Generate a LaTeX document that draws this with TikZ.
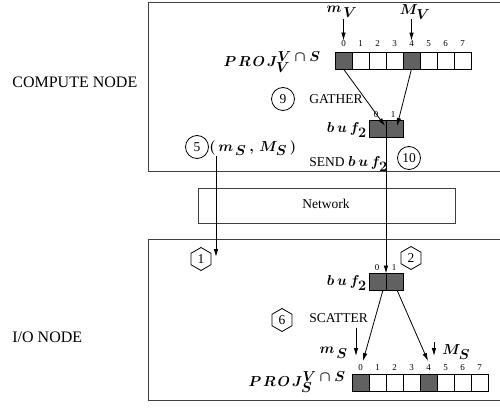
\documentclass[tikz,border=0pt]{standalone}
\usepackage{fontspec}
\setmainfont{Liberation Serif}
\usetikzlibrary{arrows.meta,shapes.geometric}
\newcommand{\bigsc}[1]{\mbox{\fontsize{14}{15}\selectfont$#1$}}
\begin{document}
\begin{tikzpicture}[x=1pt,y=-1pt, line width=0.8pt,
  frame/.style={draw=black!75, line width=0.9pt},
  cell/.style={draw, minimum width=17pt, minimum height=17pt, inner sep=0pt, outer sep=0pt, line width=0.7pt},
  full/.style={cell, fill=black!62},
  idx/.style={font=\fontsize{9}{9}\selectfont, inner sep=0pt},
  circ/.style={circle, draw, minimum size=23pt, inner sep=0pt, font=\fontsize{13.5}{13.5}\selectfont},
  hexa/.style={regular polygon, regular polygon sides=6, shape border rotate=30, draw, minimum size=23pt, inner sep=0pt, font=\fontsize{13.5}{13.5}\selectfont},
  lbl/.style={font=\fontsize{13.5}{15}\selectfont, inner sep=0pt},
  mlbl/.style={font=\fontsize{14.5}{16}\selectfont\boldmath, inner sep=0pt},
  side/.style={font=\fontsize{16}{18}\selectfont, inner sep=0pt, anchor=west},
  arr/.style={-{Latex[length=8pt,width=4.5pt]}}
]
\useasboundingbox (0,0) rectangle (500,414);
% frames
\draw[frame] (505,2) -- (148,2) -- (148,171) -- (505,171);
\node[frame, draw, minimum width=257pt, minimum height=35pt, inner sep=0pt] (net) at (326.5,205.5) {};
\node[lbl] at (326,204) {Network};
\draw[frame] (505,239) -- (148,239) -- (148,400) -- (505,400);
\node[side] (cn) at (12,82) {COMPUTE NODE};
\node[side] (ion) at (12,337) {I/O NODE};
% PROJ_V array
\foreach \i in {0,...,7} {
  \node[cell] (v\i) at (343.5+17*\i,60.5) {};
  \node[idx] (vi\i) at (343.5+17*\i,44) {\i};
}
\node[full] at (v0) {};
\node[full] at (v4) {};
\node[mlbl, anchor=east] (projv) at (321,62) {$P\mskip2mu R\mskip2mu O\mskip2mu J^{\bigsc{V\cap S}}_{\bigsc{V}}$};
\node[mlbl] (mv) at (342,12) {$m_{\,\bigsc{V}}$};
\node[mlbl] (Mv) at (415,12) {$M_{\bigsc{V}}$};
\coordinate (mva) at (343.5,19);
\coordinate (Mva) at (411.5,19);
\draw[arr] (mva) -- (vi0.north);
\draw[arr] (Mva) -- (vi4.north);
% gather
\node[circ] (c9) at (283,99) {9};
\node[lbl, anchor=west] (gather) at (309,99) {GATHER};
\node[full] (b0) at (377.5,129) {};
\node[full] (b1) at (394.5,129) {};
\node[idx] at (376,115) {0};
\node[idx] at (393,115) {1};
\node[mlbl, anchor=east] (bufa) at (367,130) {$b\,u\,f_{\bigsc{2}}$};
\coordinate (g0) at (385,126);
\coordinate (g1) at (397,126);
\draw[arr] (v0.south) -- (g0);
\draw[arr] (v4.south) -- (g1);
% send
\node[circ] (c5) at (197,147) {5};
\node[mlbl, anchor=west] (ms) at (209,148) {$(\,m_{\,\bigsc{S}}\,,\,M_{\bigsc{S}}\,)$};
\node[lbl, anchor=west] (send) at (309,164) {SEND \mbox{\fontsize{14.5}{16}\selectfont\boldmath$b\,u\,f_{\bigsc{2}}$}};
\node[circ] (c10) at (409,158) {10};
\coordinate (mss) at (216,156);
\coordinate (mse) at (216,257);
\draw[arr] (mss) -- (mse);
% I/O buffer
\node[full] (d0) at (377.5,282) {};
\node[full] (d1) at (394.5,282) {};
\node[idx] at (377,268) {0};
\node[idx] at (394,268) {1};
\node[mlbl, anchor=east] (bufb) at (367,283) {$b\,u\,f_{\bigsc{2}}$};
\draw[arr] (b0.south east) -- (d0.north east);
\node[hexa] (h1) at (201,259) {1};
\node[hexa] (h2) at (411,258) {2};
% scatter
\node[hexa] (h6) at (282,320) {6};
\node[lbl, anchor=west] (scatter) at (309,318) {SCATTER};
\foreach \i in {0,...,7} {
  \node[cell] (s\i) at (360.5+17*\i,383) {};
  \node[idx] (si\i) at (360.5+17*\i,368) {\i};
}
\node[full] at (s0) {};
\node[full] at (s4) {};
\node[mlbl, anchor=east] (projs) at (346,382) {$P\mskip2mu R\mskip2mu O\mskip2mu J^{\bigsc{V\cap S}}_{\bigsc{S}}$};
\coordinate (e0) at (383,290);
\coordinate (e1) at (397,290);
\coordinate (t0) at (363,361);
\coordinate (t1) at (428,361);
\draw[arr] (e0) -- (t0);
\draw[arr] (e1) -- (t1);
\node[mlbl, anchor=east] (msl) at (348,353) {$m_{\,\bigsc{S}}$};
\node[mlbl, anchor=west] (Msl) at (442,352) {$M_{\bigsc{S}}$};
\coordinate (msa) at (356,328);
\coordinate (msb) at (356,356);
\coordinate (Msa) at (434,342);
\coordinate (Msb) at (434,356);
\draw[arr] (msa) -- (msb);
\draw[arr] (Msa) -- (Msb);
\end{tikzpicture}
\end{document}
